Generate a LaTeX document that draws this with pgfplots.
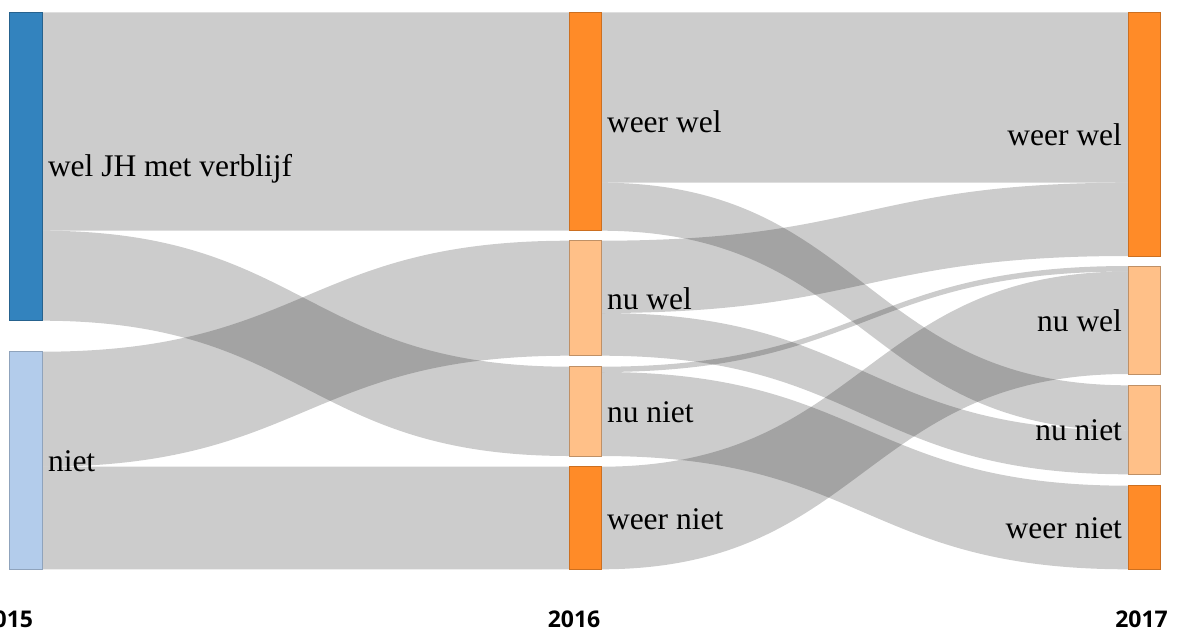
\documentclass[border=0pt]{standalone}
\usepackage{pgfplots}
\pgfplotsset{compat=1.18}
\usepackage{fontspec}
\setmainfont{Liberation Serif}
\newfontfamily\yearfont{Open Sans}
\definecolor{cBlue}{HTML}{3383BE}
\definecolor{cLBlue}{HTML}{B3CCEB}
\definecolor{cOrange}{HTML}{FF8B28}
\definecolor{cLOrange}{HTML}{FFC088}
% flow between 2015 (x=42) and 2016 (x=569): source top, source bottom, target top, target bottom
\newcommand{\flowA}[4]{\fill[black,fill opacity=0.2] (axis cs:42,#1) .. controls (axis cs:305.5,#1) and (axis cs:305.5,#3) .. (axis cs:569,#3) -- (axis cs:569,#4) .. controls (axis cs:305.5,#4) and (axis cs:305.5,#2) .. (axis cs:42,#2) -- cycle;}
% flow between 2016 (x=601) and 2017 (x=1128)
\newcommand{\flowB}[4]{\fill[black,fill opacity=0.2] (axis cs:601,#1) .. controls (axis cs:864.5,#1) and (axis cs:864.5,#3) .. (axis cs:1128,#3) -- (axis cs:1128,#4) .. controls (axis cs:864.5,#4) and (axis cs:864.5,#2) .. (axis cs:601,#2) -- cycle;}
\tikzset{lab/.style={inner sep=0pt, outer sep=0pt, font=\fontsize{31.5}{33}\selectfont},
         yr/.style={inner sep=0pt, outer sep=0pt, font=\yearfont\bfseries\fontsize{23}{25}\selectfont}}
\begin{document}
\begin{tikzpicture}
\begin{axis}[
  scale only axis, width=1185pt, height=632pt,
  xmin=0, xmax=1185, ymin=0, ymax=632, y dir=reverse,
  hide axis, clip=false,
]
% ---- flows 2015 -> 2016
\flowA{12.3}{230.7}{12.3}{230.7}     % wel JH -> weer wel
\flowA{230.7}{320.7}{366.7}{456.0}   % wel JH -> nu niet
\flowA{351.7}{466.7}{240.7}{355.7}   % niet -> nu wel
\flowA{466.7}{569.3}{466.7}{569.3}   % niet -> weer niet
% ---- flows 2016 -> 2017
\flowB{12.3}{182.7}{12.3}{182.7}     % weer wel -> weer wel
\flowB{182.7}{230.7}{385.3}{430.5}   % weer wel -> nu niet
\flowB{240.7}{313.0}{182.7}{256.0}   % nu wel -> weer wel
\flowB{313.0}{355.7}{430.5}{474.3}   % nu wel -> nu niet
\flowB{366.7}{372.0}{266.0}{271.5}   % nu niet -> nu wel
\flowB{372.0}{456.0}{485.7}{569.3}   % nu niet -> weer niet
\flowB{466.7}{569.3}{271.5}{374.0}   % weer niet -> nu wel
% ---- nodes 2015
\addplot[fill=cBlue, draw=cBlue!75!black, line width=1pt] coordinates {(9.5,12.3) (42,12.3) (42,320.7) (9.5,320.7)} -- cycle;
\addplot[fill=cLBlue, draw=cLBlue!80!black, line width=1pt] coordinates {(9.5,351.7) (42,351.7) (42,569.3) (9.5,569.3)} -- cycle;
% ---- nodes 2016
\addplot[fill=cOrange, draw=cOrange!80!black, line width=1pt] coordinates {(569,12.3) (601,12.3) (601,230.7) (569,230.7)} -- cycle;
\addplot[fill=cLOrange, draw=cLOrange!75!black, line width=1pt] coordinates {(569,240.7) (601,240.7) (601,355.7) (569,355.7)} -- cycle;
\addplot[fill=cLOrange, draw=cLOrange!75!black, line width=1pt] coordinates {(569,366.7) (601,366.7) (601,456.0) (569,456.0)} -- cycle;
\addplot[fill=cOrange, draw=cOrange!80!black, line width=1pt] coordinates {(569,466.7) (601,466.7) (601,569.3) (569,569.3)} -- cycle;
% ---- nodes 2017
\addplot[fill=cOrange, draw=cOrange!80!black, line width=1pt] coordinates {(1128,12.3) (1160,12.3) (1160,256.0) (1128,256.0)} -- cycle;
\addplot[fill=cLOrange, draw=cLOrange!75!black, line width=1pt] coordinates {(1128,266.0) (1160,266.0) (1160,374.0) (1128,374.0)} -- cycle;
\addplot[fill=cLOrange, draw=cLOrange!75!black, line width=1pt] coordinates {(1128,385.3) (1160,385.3) (1160,474.3) (1128,474.3)} -- cycle;
\addplot[fill=cOrange, draw=cOrange!80!black, line width=1pt] coordinates {(1128,485.7) (1160,485.7) (1160,569.3) (1128,569.3)} -- cycle;
% ---- node labels
\node[lab, anchor=base west] at (axis cs:48,176.7) {wel JH met verblijf};
\node[lab, anchor=base west] at (axis cs:48,471.7) {niet};
\node[lab, anchor=base west] at (axis cs:607,132.7) {weer wel};
\node[lab, anchor=base west] at (axis cs:607,309.3) {nu wel};
\node[lab, anchor=base west] at (axis cs:607,422.0) {nu niet};
\node[lab, anchor=base west] at (axis cs:607,529.0) {weer niet};
\node[lab, anchor=base east] at (axis cs:1122,145.0) {weer wel};
\node[lab, anchor=base east] at (axis cs:1122,331.0) {nu wel};
\node[lab, anchor=base east] at (axis cs:1122,440.8) {nu niet};
\node[lab, anchor=base east] at (axis cs:1122,538.5) {weer niet};
% ---- year labels
\node[yr, anchor=base east] at (axis cs:33,627.7) {2015};
\node[yr, anchor=base] at (axis cs:574,627.7) {2016};
\node[yr, anchor=base] at (axis cs:1141.5,627.7) {2017};
\end{axis}
\pgfresetboundingbox
\path[use as bounding box] (current axis.south west) rectangle (current axis.north east);
\end{tikzpicture}
\end{document}
